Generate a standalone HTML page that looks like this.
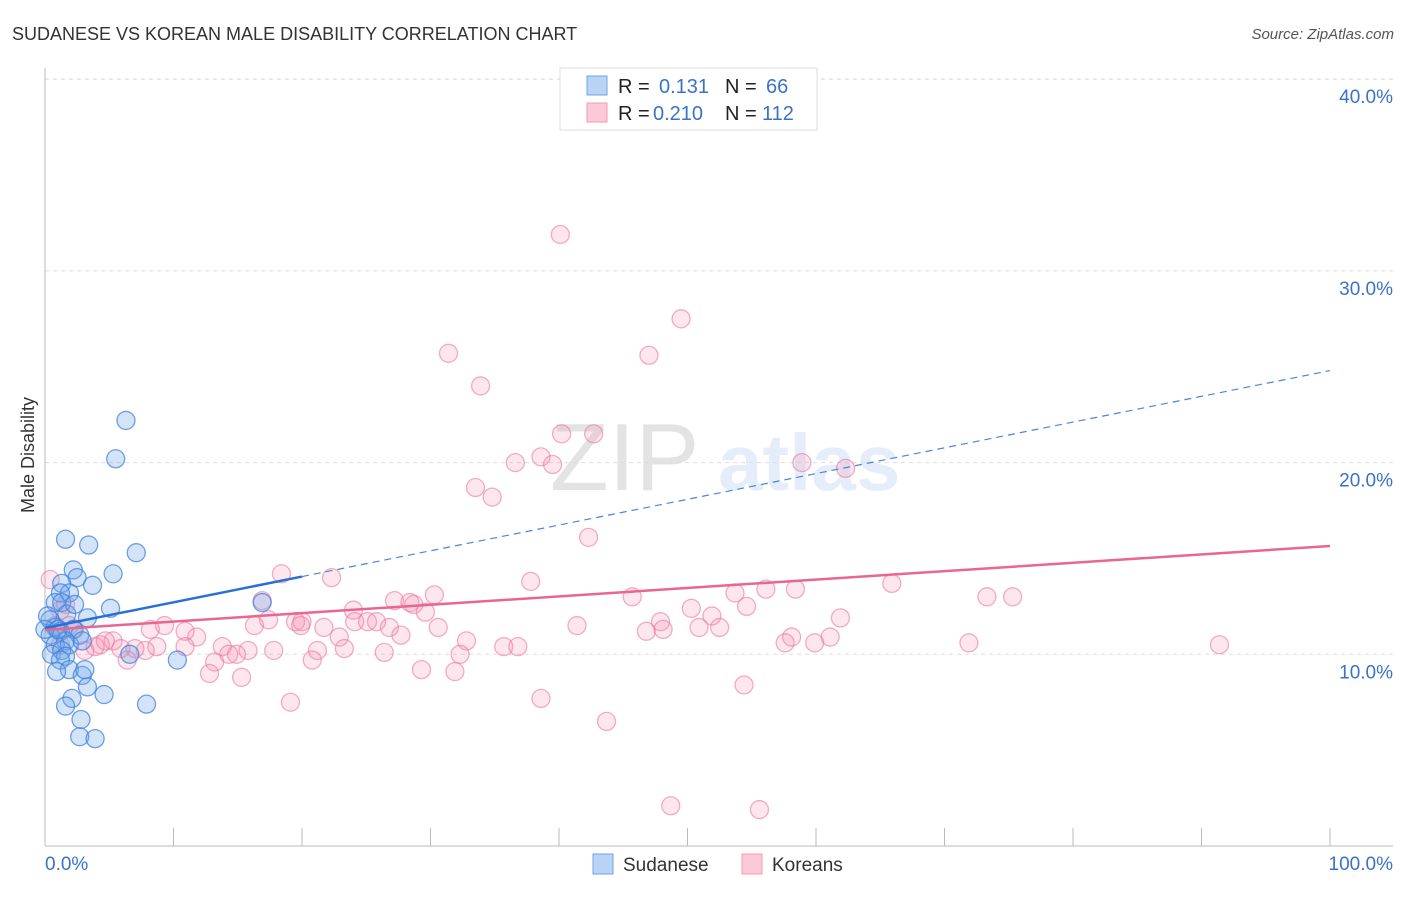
<!DOCTYPE html>
<html><head><meta charset="utf-8"><style>
body{margin:0;background:#fff;font-family:"Liberation Sans",sans-serif}
svg text{font-family:"Liberation Sans",sans-serif}
</style></head><body>
<svg id="chart" width="1406" height="892" xmlns="http://www.w3.org/2000/svg">
<text x="12" y="40" font-size="18" fill="#333">SUDANESE VS KOREAN MALE DISABILITY CORRELATION CHART</text>
<text x="1394" y="39" font-size="15" fill="#555" font-style="italic" text-anchor="end">Source: ZipAtlas.com</text>
<g opacity="0.13">
<text x="550" y="490" font-size="96" font-family="Liberation Serif" fill="#333">ZIP</text>
<text x="718" y="490" font-size="80" fill="#3a7bd5" font-weight="bold">atlas</text>
</g>
<g id="grid"></g>
<g id="axes"></g>
<g id="marks"></g>
<g id="lines"></g>
<g>
<rect x="560" y="68" width="257" height="62" fill="#fff" stroke="#ddd"/>
<rect x="587" y="76" width="20" height="19" fill="#b9d3f5" stroke="#6fa3e6"/>
<rect x="587" y="103" width="20" height="19" fill="#fbc9d8" stroke="#f09ab5"/>
<text x="618" y="93" font-size="20" fill="#222">R = </text><text x="659" y="93" font-size="20" fill="#3a72c9">0.131</text>
<text x="725" y="93" font-size="20" fill="#222">N = </text><text x="766" y="93" font-size="20" fill="#3a72c9">66</text>
<text x="618" y="120" font-size="20" fill="#222">R = </text><text x="653" y="120" font-size="20" fill="#3a72c9">0.210</text>
<text x="725" y="120" font-size="20" fill="#222">N = </text><text x="762" y="120" font-size="20" fill="#3a72c9">112</text>
</g>
<g>
<rect x="593" y="854" width="20" height="20" fill="#b9d3f5" stroke="#6fa3e6"/>
<text x="623" y="871" font-size="19" fill="#333">Sudanese</text>
<rect x="742" y="854" width="20" height="20" fill="#fbc9d8" stroke="#f09ab5"/>
<text x="772" y="871" font-size="19" fill="#333">Koreans</text>
</g>
</svg>
<script>
const yTicks=[10,20,30,40];
const yTickLabels=["10.0%","20.0%","30.0%","40.0%"];
const xTicks=[0,10,20,30,40,50,60,70,80,90,100];
const xEndLabels=["0.0%","100.0%"];
const sudaneseX=[6.3,5.5,1.6,3.4,7.1,5.3,2.2,2.5,3.7,1.3,1.9,1.2,0.8,1.3,5.1,16.9,3.3,1.7,0.4,0.8,1.2,2.2,2.7,0.4,1.6,0.8,1.9,2.9,0.5,1.3,1.6,1.2,6.6,10.3,1.9,0.9,2.9,3.1,3.3,2.1,4.6,1.6,7.9,2.8,2.7,3.9,0.2,0,2.3,1.0];
const sudaneseY=[22.2,20.2,16.0,15.7,15.3,14.2,14.4,14.0,13.6,13.7,13.2,13.2,12.7,12.7,12.4,12.7,11.9,12.1,11.8,11.4,11.2,11.3,11.0,11.0,10.7,10.5,10.5,10.7,10.0,10.2,9.9,9.7,10.0,9.7,9.2,9.1,8.9,9.2,8.3,7.7,7.9,7.3,7.4,6.6,5.7,5.6,12.0,11.3,12.6,11.3];
const koreansX=[40.1,49.5,31.4,47.0,33.9,40.2,42.7,36.6,38.6,39.5,58.9,62.3,33.5,34.8,42.3,18.4,22.3,37.8,65.9,56.1,58.4,30.3,45.7,53.7,73.3,75.3,16.9,27.2,28.4,28.7,54.6,50.3,29.6,24.0,51.9,61.9,47.9,19.5,20.0,24.1,25.1,25.8,17.4,16.3,41.4,26.8,30.6,50.9,52.5,9.3,10.9,8.2,21.7,19.9,46.8,48.1,27.7,58.1,61.1,22.9,11.8,32.8,59.9,57.6,71.9,91.4,35.7,36.8,13.8,15.8,17.8,21.2,23.3,26.4,32.3,14.9,14.3,10.9,8.7,7.8,7.0,5.3,4.3,3.1,3.9,5.9,1.2,0.8,1.2,1.9,1.6,20.8,13.2,6.4,29.3,31.9,12.8,15.3,54.4,38.6,19.1,43.7,48.7,55.6,0.4,4.7,2.3];
const koreansY=[31.9,27.5,25.7,25.6,24.0,21.5,21.5,20.0,20.3,19.9,20.0,19.7,18.7,18.2,16.1,14.2,14.0,13.8,13.7,13.4,13.4,13.1,13.0,13.2,13.0,13.0,12.8,12.8,12.7,12.6,12.5,12.4,12.2,12.3,12.0,11.9,11.7,11.7,11.7,11.7,11.7,11.7,11.8,11.5,11.5,11.4,11.4,11.4,11.4,11.5,11.2,11.3,11.4,11.5,11.2,11.3,11.0,10.9,10.9,10.9,10.9,10.7,10.6,10.6,10.6,10.5,10.4,10.4,10.4,10.2,10.2,10.2,10.3,10.1,10.0,10.0,10.0,10.4,10.4,10.2,10.3,10.7,10.5,10.2,10.4,10.3,10.5,11.5,12.3,11.5,12.6,9.7,9.6,9.7,9.2,9.1,9.0,8.8,8.4,7.7,7.5,6.5,2.1,1.9,13.9,10.7,11.3];
const sudaneseTrend=[11.37,24.8];
const koreansTrend=[11.27,15.65];
const NS="http://www.w3.org/2000/svg";
const X=v=>45+v*12.85, Y=v=>846-v*19.17;
function mk(t,a,p){const e=document.createElementNS(NS,t);for(const k in a)e.setAttribute(k,a[k]);p.appendChild(e);return e;}
const grid=document.getElementById('grid'),axes=document.getElementById('axes'),marks=document.getElementById('marks'),lines=document.getElementById('lines');
mk('line',{x1:45,x2:1393,y1:79,y2:79,stroke:'#ddd','stroke-dasharray':'4,4'},grid);
yTicks.forEach((t,i)=>{
 const g=mk('line',{x1:45,x2:1393,y1:Y(t),y2:Y(t),stroke:'#ddd','stroke-dasharray':'4,4'},grid);
 
 
 const l=mk('text',{x:1393,y:Y(t)+24,'font-size':19,fill:'#3a72c9','text-anchor':'end'},axes);
 l.textContent=yTickLabels[i];
 
 
});
mk('line',{x1:45,x2:45,y1:68,y2:846,stroke:'#bbb'},axes);
mk('line',{x1:45,x2:1393,y1:846,y2:846,stroke:'#bbb'},axes);
xTicks.forEach(t=>{const e=mk('line',{x1:X(t),x2:X(t),y1:828,y2:846,stroke:'#bbb'},axes);
 
 });
let a=mk('text',{x:45,y:870,'font-size':19,fill:'#3a72c9'},axes);a.textContent=xEndLabels[0];


a=mk('text',{x:1393,y:870,'font-size':19,fill:'#3a72c9','text-anchor':'end'},axes);a.textContent=xEndLabels[1];


a=mk('text',{x:34,y:455,'font-size':18,fill:'#333','text-anchor':'middle',transform:'rotate(-90 34 455)'},axes);a.textContent='Male Disability';


koreansX.forEach((x,i)=>{const c=mk('circle',{cx:X(x),cy:Y(koreansY[i]),r:9,fill:'rgba(245,140,175,0.22)',stroke:'rgba(235,120,160,0.6)','stroke-width':1.3},marks);
 
 });
sudaneseX.forEach((x,i)=>{const c=mk('circle',{cx:X(x),cy:Y(sudaneseY[i]),r:9,fill:'rgba(110,165,235,0.3)',stroke:'rgba(60,130,220,0.75)','stroke-width':1.3},marks);
 
 });
const sy=x=>sudaneseTrend[0]+(sudaneseTrend[1]-sudaneseTrend[0])*x/100;
let l=mk('line',{x1:X(0),y1:Y(sy(0)),x2:X(20),y2:Y(sy(20)),stroke:'#2a6fd6','stroke-width':2.5},lines);


l=mk('line',{x1:X(20),y1:Y(sy(20)),x2:X(100),y2:Y(sy(100)),stroke:'#4a86d8','stroke-width':1.2,'stroke-dasharray':'7,5'},lines);


l=mk('line',{x1:X(0),y1:Y(koreansTrend[0]),x2:X(100),y2:Y(koreansTrend[1]),stroke:'#e8668f','stroke-width':2.5},lines);


</script>
</body></html>
